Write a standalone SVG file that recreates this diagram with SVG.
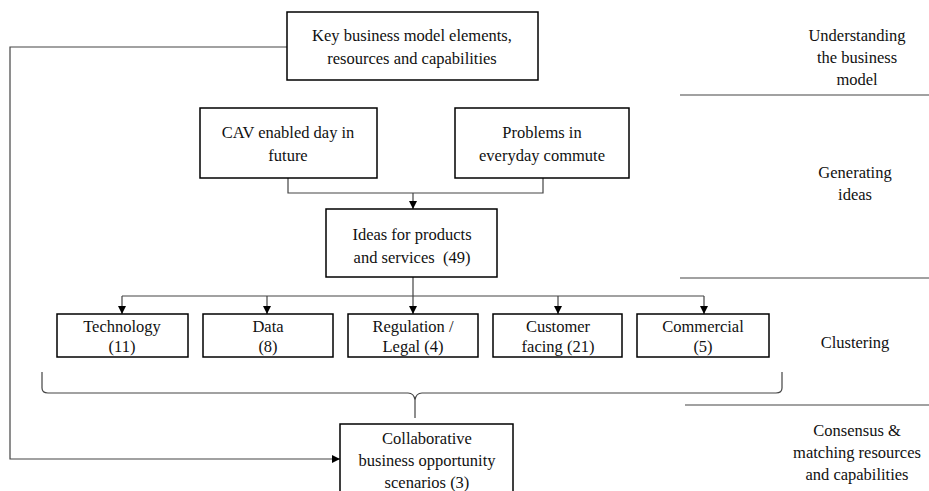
<svg xmlns="http://www.w3.org/2000/svg" width="929" height="491" viewBox="0 0 929 491">
<style>
.box{fill:#fff;stroke:#000;stroke-width:1.5}
.t{font-family:'Liberation Serif','Times New Roman',Times,'DejaVu Serif',serif;font-size:16.5px;fill:#111;text-anchor:middle}
.c{fill:none;stroke:#444;stroke-width:1.2}
.sep{stroke:#444;stroke-width:1.2}
</style>
<defs>
<marker id="a" viewBox="0 0 10 10" refX="10" refY="5" markerWidth="8" markerHeight="8" markerUnits="userSpaceOnUse" orient="auto">
<path d="M0,0 L10,5 L0,10 z" fill="#000"/>
</marker>
</defs>
<rect width="929" height="491" fill="#fff"/>
<g id="connectors">
<path class="c" d="M287,47 H10 V459 H340" marker-end="url(#a)"/>
<path class="c" d="M288,178 V193 H543 V178"/>
<path class="c" d="M413,193 V209" marker-end="url(#a)"/>
<path class="c" d="M413,277 V314" marker-end="url(#a)"/>
<path class="c" d="M122,296 H704"/>
<path class="c" d="M122,296 V314" marker-end="url(#a)"/>
<path class="c" d="M267,296 V314" marker-end="url(#a)"/>
<path class="c" d="M558,296 V314" marker-end="url(#a)"/>
<path class="c" d="M704,296 V314" marker-end="url(#a)"/>
<path class="c" d="M42,372 V388 Q42,393 48,393 H408 Q414,393 415,400 V418 M415,400 Q416,393 422,393 H776 Q782,393 782,388 V372"/>
</g>
<g id="n-key"><rect class="box" x="287" y="12" width="251" height="68"/>
<text class="t" x="412" y="41" font-family="Liberation Serif, serif">Key business model elements,</text>
<text class="t" x="412" y="64" font-family="Liberation Serif, serif">resources and capabilities</text></g>
<g id="n-cav"><rect class="box" x="200" y="108" width="177" height="70"/>
<text class="t" x="288" y="138">CAV enabled day in</text>
<text class="t" x="288" y="161">future</text></g>
<g id="n-problems"><rect class="box" x="455" y="108" width="174" height="70"/>
<text class="t" x="542" y="138">Problems in</text>
<text class="t" x="542" y="161">everyday commute</text></g>
<g id="n-ideas"><rect class="box" x="326" y="209" width="171" height="68"/>
<text class="t" x="412" y="240">Ideas for products</text>
<text class="t" x="412" y="263" xml:space="preserve">and services  (49)</text></g>
<g id="n-tech"><rect class="box" x="57" y="314" width="131" height="43"/>
<text class="t" x="122" y="332">Technology</text>
<text class="t" x="122" y="352">(11)</text></g>
<g id="n-data"><rect class="box" x="203" y="314" width="130" height="43"/>
<text class="t" x="268" y="332">Data</text>
<text class="t" x="268" y="352">(8)</text></g>
<g id="n-reg"><rect class="box" x="348" y="314" width="130" height="43"/>
<text class="t" x="413" y="332">Regulation /</text>
<text class="t" x="413" y="352">Legal (4)</text></g>
<g id="n-cust"><rect class="box" x="493" y="314" width="129" height="43"/>
<text class="t" x="558" y="332">Customer</text>
<text class="t" x="558" y="352">facing (21)</text></g>
<g id="n-comm"><rect class="box" x="637" y="314" width="132" height="43"/>
<text class="t" x="703" y="332">Commercial</text>
<text class="t" x="703" y="352">(5)</text></g>
<g id="n-collab"><rect class="box" x="340" y="424" width="173" height="70"/>
<text class="t" x="427" y="444">Collaborative</text>
<text class="t" x="427" y="466">business opportunity</text>
<text class="t" x="427" y="488">scenarios (3)</text></g>
<g id="stages">
<text class="t" x="857" y="41">Understanding</text>
<text class="t" x="857" y="63">the business</text>
<text class="t" x="857" y="85">model</text>
<line class="sep" x1="680" y1="95" x2="929" y2="95"/>
<text class="t" x="855" y="178">Generating</text>
<text class="t" x="855" y="200">ideas</text>
<line class="sep" x1="680" y1="278" x2="929" y2="278"/>
<text class="t" x="855" y="348">Clustering</text>
<line class="sep" x1="685" y1="405" x2="929" y2="405"/>
<text class="t" x="857" y="436">Consensus &amp;</text>
<text class="t" x="857" y="458">matching resources</text>
<text class="t" x="857" y="480">and capabilities</text>
</g>
</svg>
